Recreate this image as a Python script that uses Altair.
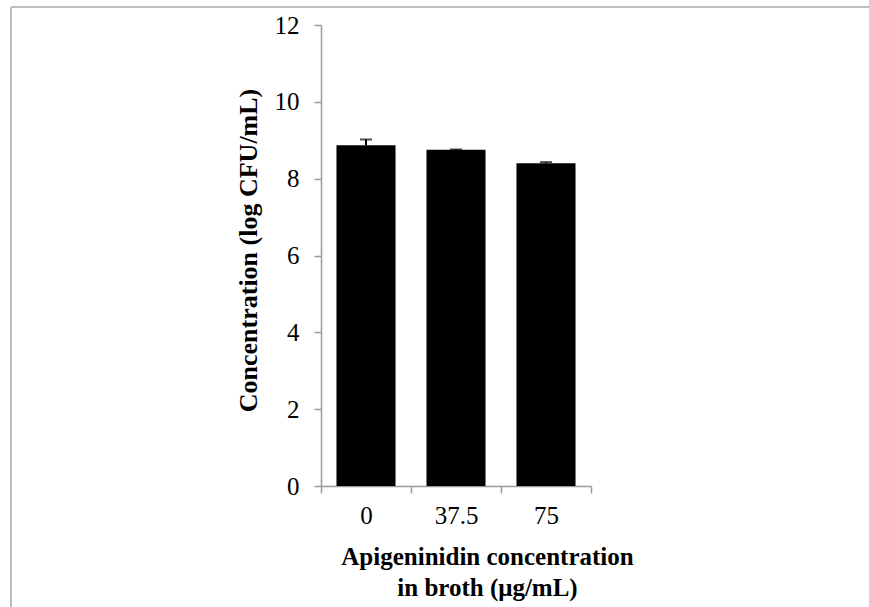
import altair as alt
import pandas as pd

categories = ["0", "37.5", "75"]
values = [8.87, 8.75, 8.40]
errors = [0.15, 0.01, 0.03]

df = pd.DataFrame({"cat": categories, "val": values, "err": errors})
df["upper"] = df["val"] + df["err"]

FONT = "Liberation Serif"
AXIS_GRAY = "#9a9a9a"

x_enc = alt.X(
    "cat:N",
    sort=categories,
    scale=alt.Scale(paddingInner=0, paddingOuter=0),
    axis=alt.Axis(
        title=["Apigeninidin concentration", "in broth (\u03bcg/mL)"],
        labelAngle=0,
        labelFont=FONT,
        labelFontSize=25,
        labelColor="black",
        labelPadding=10,
        titleFont=FONT,
        titleFontSize=25,
        titleFontWeight="bold",
        titleColor="black",
        titleLineHeight=31,
        titlePadding=16,
        titleX=166,
        grid=False,
        tickBand="extent",
        tickSize=7,
        tickColor=AXIS_GRAY,
        tickWidth=1.5,
        domainColor=AXIS_GRAY,
        domainWidth=1.5,
    ),
)

y_enc = alt.Y(
    "val:Q",
    scale=alt.Scale(domain=[0, 12]),
    axis=alt.Axis(
        title="Concentration (log CFU/mL)",
        values=[0, 2, 4, 6, 8, 10, 12],
        grid=False,
        labelFont=FONT,
        labelFontSize=25,
        labelColor="black",
        labelPadding=15,
        titleFont=FONT,
        titleFontSize=26,
        titleFontWeight="bold",
        titleColor="black",
        titlePadding=13,
        titleY=225,
        tickSize=7,
        tickColor=AXIS_GRAY,
        tickWidth=1.5,
        domainColor=AXIS_GRAY,
        domainWidth=1.5,
    ),
)

bars = alt.Chart(df).mark_bar(color="black", width=alt.RelativeBandSize(0.656)).encode(
    x=x_enc, y=y_enc
)

err_rule = alt.Chart(df).mark_rule(color="black", strokeWidth=2).encode(
    x=alt.X("cat:N", sort=categories),
    y="val:Q",
    y2="upper:Q",
)

err_cap = alt.Chart(df).mark_tick(color="black", thickness=2, size=12).encode(
    x=alt.X("cat:N", sort=categories),
    y="upper:Q",
)

frame_top = alt.Chart(df).mark_rule(color="#bdbdbd", strokeWidth=2).encode(
    x=alt.value(-310), x2=alt.value(560), y=alt.value(-18)
)
frame_left = alt.Chart(df).mark_rule(color="#bdbdbd", strokeWidth=2).encode(
    x=alt.value(-310), y=alt.value(-18), y2=alt.value(600)
)

chart = (
    alt.layer(frame_top, frame_left, bars, err_rule, err_cap)
    .properties(
        width=270,
        height=461,
        autosize=alt.AutoSizeParams(type="none"),
        padding={"left": 321, "top": 25, "right": 278, "bottom": 121},
        view=alt.ViewBackground(stroke="transparent", strokeWidth=0),
    )
    .configure_view(strokeWidth=0, stroke="transparent")
    .configure(background="white")
)

chart.save("out.html", embed_options={"renderer": "svg", "actions": False})
